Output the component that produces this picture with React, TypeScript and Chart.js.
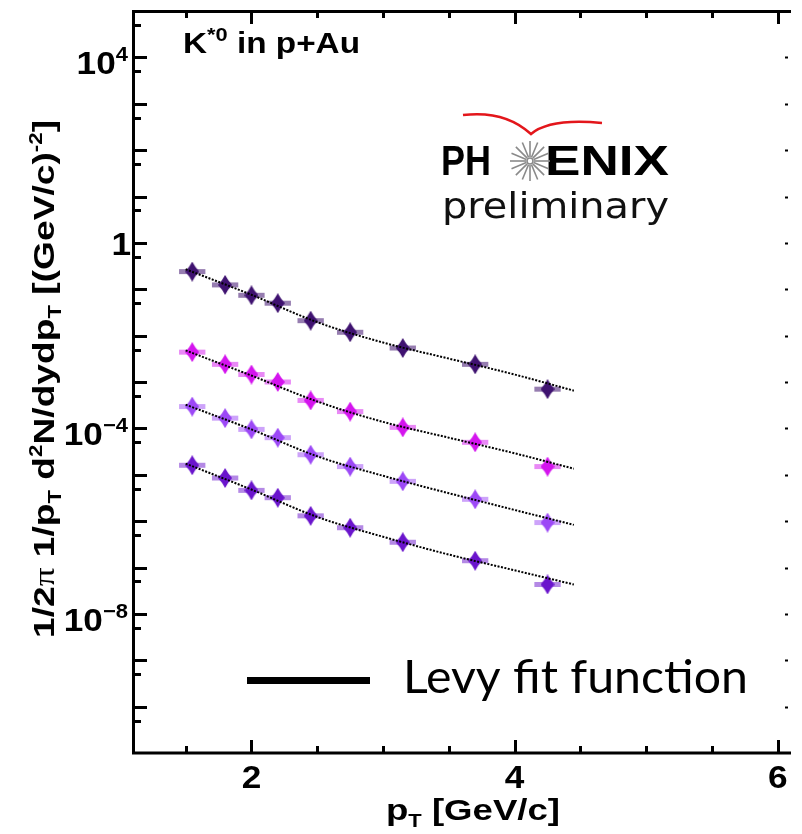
import React, { useEffect, useRef } from "react";
import { Chart, registerables } from "chart.js";

Chart.register(...registerables);

// pT bin centres [GeV/c] and half-widths of the systematic boxes
const ptCentres = [1.55, 1.8, 2.0, 2.2, 2.45, 2.75, 3.15, 3.7, 4.25];
const ptHalfWidth = [0.1, 0.1, 0.1, 0.1, 0.1, 0.1, 0.1, 0.1, 0.1];

// invariant yields, one array per spectrum (top to bottom)
const yieldA = [2.4e-1, 1.24e-1, 7.4e-2, 5.0e-2, 2.1e-2, 1.18e-2, 5.4e-3, 2.4e-3, 7.0e-4];
const yieldB = [4.4e-3, 2.4e-3, 1.45e-3, 1.0e-3, 4.0e-4, 2.3e-4, 1.05e-4, 5.0e-5, 1.5e-5];
const yieldC = [2.95e-4, 1.66e-4, 9.5e-5, 6.3e-5, 2.7e-5, 1.5e-5, 7.2e-6, 2.95e-6, 9.3e-7];
const yieldD = [1.6e-5, 8.5e-6, 4.6e-6, 3.2e-6, 1.3e-6, 7.2e-7, 3.5e-7, 1.4e-7, 4.3e-8];

// Levy fit curves sampled along pT
const fitPt = [1.5, 2.0, 2.5, 3.0, 3.5, 4.0, 4.45];
const fitA = [2.7e-1, 7.6e-2, 1.95e-2, 7.1e-3, 3.2e-3, 1.45e-3, 6.5e-4];
const fitB = [4.8e-3, 1.38e-3, 3.8e-4, 1.38e-4, 6.3e-5, 2.9e-5, 1.35e-5];
const fitC = [3.24e-4, 9.5e-5, 2.5e-5, 9.5e-6, 4.0e-6, 1.74e-6, 8.3e-7];
const fitD = [1.74e-5, 4.8e-6, 1.23e-6, 4.6e-7, 1.9e-7, 8.7e-8, 4.3e-8];

// marker and box colours per spectrum
const markerColors = ["#3f1270", "#d414ee", "#9c48f6", "#6a14cc"];
const boxColors = [
  "rgba(63,18,112,0.55)",
  "rgba(212,20,238,0.5)",
  "rgba(156,72,246,0.5)",
  "rgba(106,20,204,0.5)",
];

// axis ranges and labelled ticks
const xMin = 1.1;
const xMax = 6.1;
const yMinExp = -11;
const yMaxExp = 5;
const xLabelValues = [2, 4, 6];
const yLabelExps = [4, 0, -4, -8];

const SANS = "'Liberation Sans', Arial, Helvetica, sans-serif";

type Seg = { t: string; font: string; dy: number };

function segWidth(ctx: CanvasRenderingContext2D, segs: Seg[]) {
  let w = 0;
  for (const s of segs) {
    ctx.font = s.font;
    w += ctx.measureText(s.t).width;
  }
  return w;
}

function drawSegs(ctx: CanvasRenderingContext2D, segs: Seg[], x: number, y: number) {
  let cx = x;
  for (const s of segs) {
    ctx.font = s.font;
    ctx.fillText(s.t, cx, y + s.dy);
    cx += ctx.measureText(s.t).width;
  }
}

// draws segments stretched along the text direction so they span `len` px
function drawSegsSpan(ctx: CanvasRenderingContext2D, segs: Seg[], x: number, y: number, len: number) {
  const w = segWidth(ctx, segs);
  ctx.save();
  ctx.translate(x, y);
  ctx.scale(len / w, 1);
  drawSegs(ctx, segs, 0, 0);
  ctx.restore();
}

// draws segments with a fixed horizontal stretch, right-aligned at x
function drawSegsRight(ctx: CanvasRenderingContext2D, segs: Seg[], x: number, y: number, sx: number) {
  const w = segWidth(ctx, segs) * sx;
  ctx.save();
  ctx.translate(x - w, y);
  ctx.scale(sx, 1);
  drawSegs(ctx, segs, 0, 0);
  ctx.restore();
}

function makeMarker(color: string) {
  const c = document.createElement("canvas");
  const w = 14;
  const h = 20;
  c.width = w;
  c.height = h;
  const g = c.getContext("2d")!;
  const cx = w / 2;
  const cy = h / 2;
  const k = 0.15;
  const ctrl = (ax: number, ay: number, bx: number, by: number) => {
    const mx = (ax + bx) / 2;
    const my = (ay + by) / 2;
    return [mx + (cx - mx) * k, my + (cy - my) * k];
  };
  const pts = [
    [cx, 0],
    [w, cy],
    [cx, h],
    [0, cy],
  ];
  g.fillStyle = color;
  g.beginPath();
  g.moveTo(pts[0][0], pts[0][1]);
  for (let i = 0; i < 4; i++) {
    const a = pts[i];
    const b = pts[(i + 1) % 4];
    const [qx, qy] = ctrl(a[0], a[1], b[0], b[1]);
    g.quadraticCurveTo(qx, qy, b[0], b[1]);
  }
  g.closePath();
  g.fill();
  return c;
}

const spectra = [yieldA, yieldB, yieldC, yieldD];
const fits = [fitA, fitB, fitC, fitD];

const decorPlugin = {
  id: "phenixDecor",
  beforeDraw(chart: any) {
    const ctx = chart.ctx as CanvasRenderingContext2D;
    ctx.save();
    ctx.fillStyle = "#ffffff";
    ctx.fillRect(0, 0, chart.width, chart.height);
    ctx.restore();
  },
  beforeDatasetsDraw(chart: any) {
    const ctx = chart.ctx as CanvasRenderingContext2D;
    const xs = chart.scales.x;
    const ys = chart.scales.y;
    ctx.save();
    spectra.forEach((vals, si) => {
      ctx.fillStyle = boxColors[si];
      vals.forEach((v, i) => {
        const x0 = xs.getPixelForValue(ptCentres[i] - ptHalfWidth[i]);
        const x1 = xs.getPixelForValue(ptCentres[i] + ptHalfWidth[i]);
        const y = ys.getPixelForValue(v);
        ctx.fillRect(x0, y - 2.5, x1 - x0, 5);
      });
    });
    ctx.restore();
  },
  afterDraw(chart: any) {
    const ctx = chart.ctx as CanvasRenderingContext2D;
    const xs = chart.scales.x;
    const ys = chart.scales.y;
    const a = chart.chartArea;
    ctx.save();
    ctx.strokeStyle = "#000";
    ctx.fillStyle = "#000";
    ctx.lineCap = "butt";

    // frame
    ctx.lineWidth = 3;
    ctx.beginPath();
    ctx.moveTo(a.right, a.top + 0.5);
    ctx.lineTo(a.left + 0.5, a.top + 0.5);
    ctx.lineTo(a.left + 0.5, a.bottom);
    ctx.lineTo(a.right, a.bottom);
    ctx.stroke();

    // x ticks (bottom and top), every 0.5, long at labelled values
    for (let v = 1.5; v <= xMax + 1e-9; v += 0.5) {
      const px = Math.round(xs.getPixelForValue(v)) + 0.5;
      const long = xLabelValues.some((l) => Math.abs(l - v) < 1e-6);
      const len = long ? 13 : 7;
      ctx.lineWidth = 3;
      ctx.beginPath();
      ctx.moveTo(px, a.bottom);
      ctx.lineTo(px, a.bottom - len);
      ctx.moveTo(px, a.top);
      ctx.lineTo(px, a.top + len);
      ctx.stroke();
    }

    // y ticks: decades long, 5x short
    for (let e = yMinExp; e <= yMaxExp; e++) {
      for (const m of [1, 5]) {
        const val = m * Math.pow(10, e);
        if (val > Math.pow(10, yMaxExp) || val <= Math.pow(10, yMinExp)) continue;
        const py = Math.round(ys.getPixelForValue(val)) + 0.5;
        const len = m === 1 ? 14 : 8;
        ctx.lineWidth = 3;
        ctx.beginPath();
        ctx.moveTo(a.left, py);
        ctx.lineTo(a.left + len, py);
        ctx.stroke();
        if (m === 1) {
          ctx.lineWidth = 2;
          ctx.beginPath();
          ctx.moveTo(a.right - 6, py);
          ctx.lineTo(a.right - 3, py);
          ctx.stroke();
        }
      }
    }

    // y tick labels
    ctx.textBaseline = "alphabetic";
    ctx.textAlign = "left";
    const big = `bold 32px ${SANS}`;
    const sup = `bold 20px ${SANS}`;
    yLabelExps.forEach((e) => {
      const py = ys.getPixelForValue(Math.pow(10, e));
      if (e === 0) {
        drawSegsRight(ctx, [{ t: "1", font: big, dy: 0 }], 131, py + 12, 1.1);
      } else {
        const segs: Seg[] = [
          { t: "10", font: big, dy: 0 },
          { t: e < 0 ? "\u2212" + String(-e) : String(e), font: sup, dy: -13 },
        ];
        drawSegsRight(ctx, segs, 128, py + 17, 1.1);
      }
    });

    // x tick labels
    xLabelValues.forEach((v) => {
      ctx.font = big;
      const w = ctx.measureText(String(v)).width * 1.1;
      drawSegsRight(ctx, [{ t: String(v), font: big, dy: 0 }], xs.getPixelForValue(v) + w / 2, 788, 1.1);
    });

    // x title
    const xt: Seg[] = [
      { t: "p", font: `bold 30px ${SANS}`, dy: 0 },
      { t: "T", font: `bold 18px ${SANS}`, dy: 7 },
      { t: " [GeV/c]", font: `bold 30px ${SANS}`, dy: 0 },
    ];
    drawSegsSpan(ctx, xt, 386, 820, 174);

    // y title, rotated
    const ySize = 30;
    const ySub = 18;
    const yt: Seg[] = [
      { t: "1/2", font: `bold ${ySize}px ${SANS}`, dy: 0 },
      { t: "\u03c0", font: `${ySize}px 'Liberation Serif', serif`, dy: 0 },
      { t: " 1/p", font: `bold ${ySize}px ${SANS}`, dy: 0 },
      { t: "T", font: `bold ${ySub}px ${SANS}`, dy: 7 },
      { t: " d", font: `bold ${ySize}px ${SANS}`, dy: 0 },
      { t: "2", font: `bold ${ySub}px ${SANS}`, dy: -12 },
      { t: "N/dydp", font: `bold ${ySize}px ${SANS}`, dy: 0 },
      { t: "T", font: `bold ${ySub}px ${SANS}`, dy: 7 },
      { t: " [(GeV/c)", font: `bold ${ySize}px ${SANS}`, dy: 0 },
      { t: "-2", font: `bold ${ySub}px ${SANS}`, dy: -12 },
      { t: "]", font: `bold ${ySize}px ${SANS}`, dy: 0 },
    ];
    ctx.save();
    ctx.translate(54, 638);
    ctx.rotate(-Math.PI / 2);
    drawSegsSpan(ctx, yt, 0, 0, 518);
    ctx.restore();

    // system label
    const kt: Seg[] = [
      { t: "K", font: `bold 29px ${SANS}`, dy: 0 },
      { t: "*0", font: `bold 19px ${SANS}`, dy: -12 },
      { t: " in p+Au", font: `bold 29px ${SANS}`, dy: 0 },
    ];
    drawSegsSpan(ctx, kt, 183, 53, 177);

    // PHENIX logo
    ctx.font = `bold 42px ${SANS}`;
    const fitText = (t: string, x0: number, x1: number, y: number) => {
      const w = ctx.measureText(t).width;
      ctx.save();
      ctx.translate(x0, y);
      ctx.scale((x1 - x0) / w, 1);
      ctx.fillText(t, 0, 0);
      ctx.restore();
    };
    fitText("PH", 441, 491, 175);
    fitText("ENIX", 545, 669, 175);
    // star burst
    const sx = 530;
    const sy = 161;
    ctx.strokeStyle = "#8a8a8a";
    ctx.lineWidth = 1.6;
    for (let i = 0; i < 16; i++) {
      const ang = (i * Math.PI * 2) / 16;
      ctx.beginPath();
      ctx.moveTo(sx + Math.cos(ang) * 4, sy + Math.sin(ang) * 4);
      ctx.lineTo(sx + Math.cos(ang) * 20, sy + Math.sin(ang) * 20);
      ctx.stroke();
    }
    ctx.beginPath();
    ctx.arc(sx, sy, 3, 0, Math.PI * 2);
    ctx.stroke();
    // red swoosh
    ctx.strokeStyle = "#e3161b";
    ctx.lineWidth = 2.5;
    ctx.beginPath();
    ctx.moveTo(463, 115);
    ctx.quadraticCurveTo(505, 110, 531, 134);
    ctx.quadraticCurveTo(550, 118, 602, 123);
    ctx.stroke();
    // preliminary
    ctx.fillStyle = "#111";
    ctx.font = `36px 'DejaVu Sans', sans-serif`;
    fitText("preliminary", 442, 669, 218);

    // legend
    ctx.fillStyle = "#000";
    ctx.fillRect(247, 677, 123, 7);
    ctx.font = `46px Lato, 'Open Sans', sans-serif`;
    fitText("Levy fit function", 403, 748, 693);

    ctx.restore();
  },
};

export default function App() {
  const ref = useRef<HTMLCanvasElement>(null);

  useEffect(() => {
    document.body.style.margin = "0";
    const markers = markerColors.map(makeMarker);
    const pointSets = spectra.map((vals, si) => ({
      type: "scatter" as const,
      data: ptCentres.map((x, i) => ({ x, y: vals[i] })),
      pointStyle: markers[si],
      pointRadius: 10,
      showLine: false,
      order: 2,
    }));
    const fitSets = fits.map((vals) => ({
      type: "line" as const,
      data: fitPt.map((x, i) => ({ x, y: vals[i] })),
      borderColor: "#000",
      borderWidth: 2,
      borderDash: [2, 1.5],
      pointRadius: 0,
      showLine: true,
      fill: false,
      cubicInterpolationMode: "monotone" as const,
      order: 1,
    }));
    const chart = new Chart(ref.current!, {
      type: "scatter",
      data: { datasets: [...pointSets, ...fitSets] as any },
      options: {
        animation: false,
        responsive: false,
        events: [],
        layout: { padding: { left: 133, right: 0, top: 7, bottom: 81 } },
        plugins: { legend: { display: false }, tooltip: { enabled: false } },
        scales: {
          x: { type: "linear", min: xMin, max: xMax, display: false },
          y: {
            type: "logarithmic",
            min: Math.pow(10, yMinExp),
            max: Math.pow(10, yMaxExp),
            display: false,
          },
        },
      },
      plugins: [decorPlugin],
    });
    return () => chart.destroy();
  }, []);

  return (
    <div style={{ width: 802, height: 834 }}>
      <canvas ref={ref} width={802} height={834} style={{ display: "block", width: 802, height: 834 }} />
    </div>
  );
}
